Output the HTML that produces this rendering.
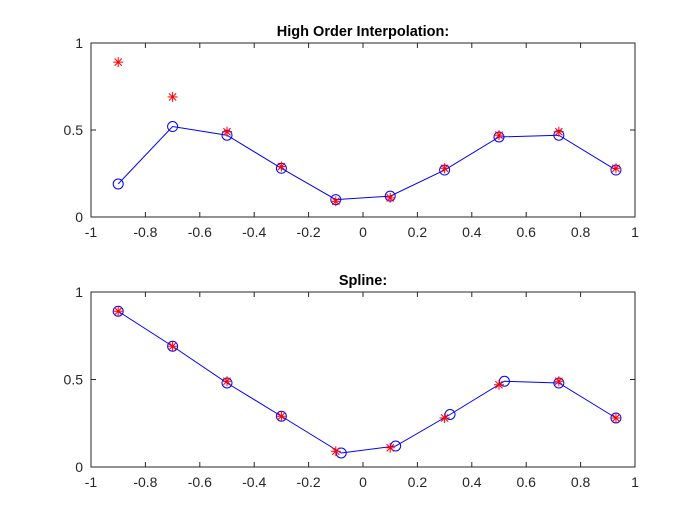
<!DOCTYPE html>
<html><head><meta charset="utf-8"><style>
body{margin:0;background:#fff;}
svg{display:block;font-family:"Liberation Sans",Arial,sans-serif;}
</style></head><body>
<svg id="c" width="700" height="525"></svg>
<script>
const xTicks=[-1,-0.8,-0.6,-0.4,-0.2,0,0.2,0.4,0.6,0.8,1];
const xTickLabels=["-1","-0.8","-0.6","-0.4","-0.2","0","0.2","0.4","0.6","0.8","1"];
const yTicks=[0,0.5,1];
const yTickLabels=["0","0.5","1"];
const dataX=[-0.9,-0.7,-0.5,-0.3,-0.1,0.1,0.3,0.5,0.72,0.93];
const dataY=[0.89,0.69,0.49,0.29,0.09,0.11,0.28,0.47,0.49,0.28];
const highX=[-0.9,-0.7,-0.5,-0.3,-0.1,0.1,0.3,0.5,0.72,0.93];
const highY=[0.19,0.52,0.47,0.28,0.10,0.12,0.27,0.46,0.47,0.27];
const splX=[-0.9,-0.7,-0.5,-0.3,-0.08,0.12,0.32,0.52,0.72,0.93];
const splY=[0.89,0.69,0.48,0.29,0.08,0.12,0.30,0.49,0.48,0.28];
const titles=["High Order Interpolation:","Spline:"];

const NS="http://www.w3.org/2000/svg";
const svg=document.getElementById('c');
function mk(t,a,p){const e=document.createElementNS(NS,t);for(const k in a)e.setAttribute(k,a[k]);(p||svg).appendChild(e);return e;}
const L=91,R=635;
const panels=[{top:43,bot:217,lx:highX,ly:highY,name:'high-order'},{top:292,bot:467,lx:splX,ly:splY,name:'spline'}];
panels.forEach((p,pi)=>{
  const g=mk('g',{});
  
  
  const sx=v=>L+(v+1)/2*(R-L);
  const sy=v=>p.bot-v*(p.bot-p.top);
  mk('rect',{x:L,y:p.top,width:R-L,height:p.bot-p.top,fill:'#fff',stroke:'#262626','stroke-width':1},g);
  xTicks.forEach((t,i)=>{
    const x=sx(t);
    mk('line',{x1:x,y1:p.bot,x2:x,y2:p.bot-5,stroke:'#262626'},g);
    mk('line',{x1:x,y1:p.top,x2:x,y2:p.top+5,stroke:'#262626'},g);
    const tx=mk('text',{x:x,y:p.bot+20,'text-anchor':'middle','font-size':14,fill:'#262626'},g);
    tx.textContent=xTickLabels[i];
    
    
  });
  yTicks.forEach((t,i)=>{
    const y=sy(t);
    mk('line',{x1:L,y1:y,x2:L+5,y2:y,stroke:'#262626'},g);
    mk('line',{x1:R,y1:y,x2:R-5,y2:y,stroke:'#262626'},g);
    const tx=mk('text',{x:L-8,y:y+5,'text-anchor':'end','font-size':14,fill:'#262626'},g);
    tx.textContent=yTickLabels[i];
    
    
  });
  const tt=mk('text',{x:(L+R)/2,y:p.top-7,'text-anchor':'middle','font-size':14.5,'font-weight':'bold',fill:'#000'},g);
  tt.textContent=titles[pi];
  
  
  const pts=p.lx.map((v,i)=>sx(v)+','+sy(p.ly[i])).join(' ');
  const pl=mk('polyline',{points:pts,fill:'none',stroke:'#0000ff','stroke-width':1},g);
  
  
  p.lx.forEach((v,i)=>{
    const c=mk('circle',{cx:sx(v),cy:sy(p.ly[i]),r:5,fill:'none',stroke:'#0000ff','stroke-width':1},g);
    
    
  });
  dataX.forEach((v,i)=>{
    const x=sx(v),y=sy(dataY[i]),s=5;
    const st=mk('g',{stroke:'#ff0000','stroke-width':1},g);
    
    
    mk('line',{x1:x-s,y1:y,x2:x+s,y2:y},st);
    mk('line',{x1:x,y1:y-s,x2:x,y2:y+s},st);
    mk('line',{x1:x-3.6,y1:y-3.6,x2:x+3.6,y2:y+3.6},st);
    mk('line',{x1:x-3.6,y1:y+3.6,x2:x+3.6,y2:y-3.6},st);
  });
});
</script>
</body></html>
